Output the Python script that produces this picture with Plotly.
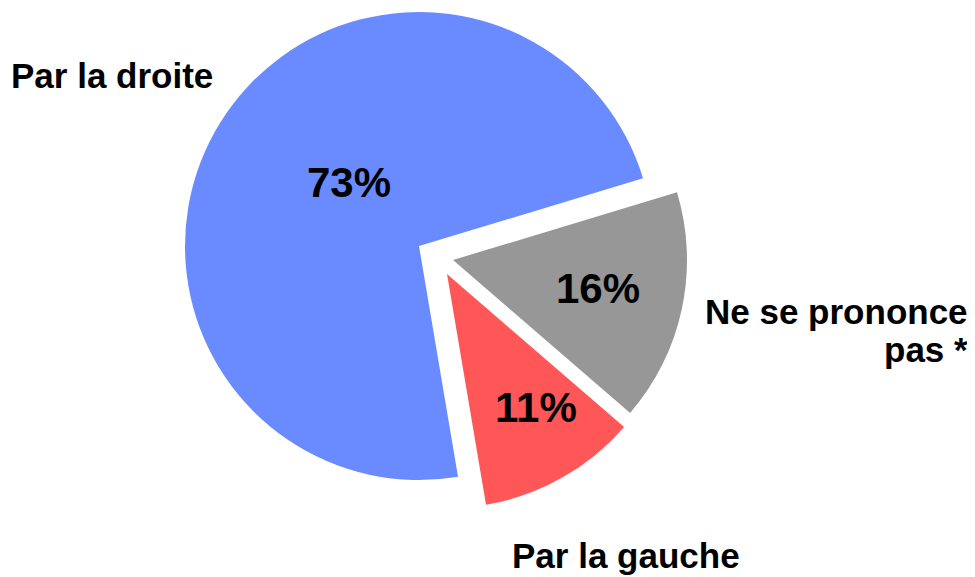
import plotly.graph_objects as go

# ---- data ----
labels = ["Par la droite", "Ne se prononce pas *", "Par la gauche"]
values = [73, 16, 11]
colors = ["#6a8bff", "#979797", "#ff5757"]

# The page body has an 8px margin, so the figure is drawn 8px smaller and
# reference pixel positions are converted with that offset.
OFF = 8
W, H = 975 - OFF, 577 - OFF
R = 234


def px(x, y):
    return (x - OFF) / W, 1 - (y - OFF) / H


# slice centres (reference pixels): base pie + the two exploded slices
centres = [(419, 246), (453, 260), (447, 274)]

fig = go.Figure()
for k, (cx, cy) in enumerate(centres):
    marker_colors = [colors[i] if i == k else "rgba(0,0,0,0)" for i in range(len(values))]
    x0, y1 = px(cx - R, cy - R)
    x1, y0 = px(cx + R, cy + R)
    fig.add_trace(go.Pie(
        labels=labels,
        values=values,
        sort=False,
        direction="clockwise",
        rotation=170.4,
        marker=dict(colors=marker_colors, line=dict(width=0)),
        textinfo="none",
        domain=dict(x=[x0, x1], y=[y0, y1]),
        hoverinfo="label+percent",
        showlegend=False,
    ))

pct_font = dict(family="Liberation Sans, Arial, sans-serif", size=42, color="black", weight="bold")
lab_font = dict(family="Liberation Sans, Arial, sans-serif", size=35, color="black", weight="bold")

# percentage labels inside the slices
pct_pos = [(348.5, 182), (598, 288), (536, 407)]
for v, (x, y) in zip(values, pct_pos):
    ax, ay = px(x, y)
    fig.add_annotation(text=f"{v}%", x=ax, y=ay, xref="paper", yref="paper",
                       xanchor="center", yanchor="middle", showarrow=False, font=pct_font)

# category labels
ax, ay = px(9, 75)
fig.add_annotation(text=labels[0], x=ax, y=ay, xref="paper", yref="paper",
                   xanchor="left", yanchor="middle", showarrow=False, font=lab_font)
parts = labels[1].rsplit(" ", 2)
for line, yy in zip([parts[0], " ".join(parts[1:])], [311, 349]):
    ax, ay = px(970, yy)
    fig.add_annotation(text=line, x=ax, y=ay, xref="paper", yref="paper",
                       xanchor="right", yanchor="middle", align="right",
                       showarrow=False, font=lab_font)
ax, ay = px(625.5, 555)
fig.add_annotation(text=labels[2], x=ax, y=ay, xref="paper", yref="paper",
                   xanchor="center", yanchor="middle", showarrow=False, font=lab_font)

fig.update_layout(
    width=W, height=H,
    margin=dict(l=0, r=0, t=0, b=0),
    paper_bgcolor="white", plot_bgcolor="white",
    showlegend=False,
)
fig.write_html("out.html")
